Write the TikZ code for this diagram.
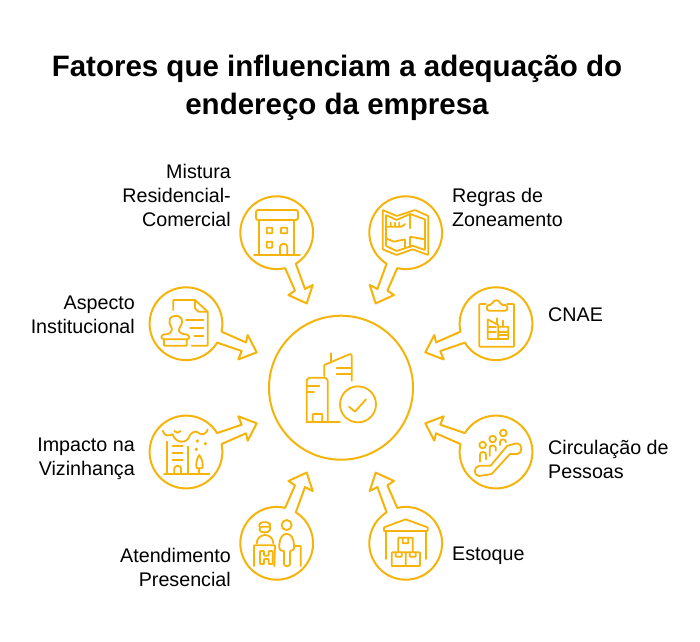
\documentclass[tikz,border=0pt]{standalone}
\usepackage{fontspec}
\setmainfont{Liberation Sans}
\definecolor{amb}{HTML}{F6B40A}
\tikzset{
  lab/.style={font=\fontsize{19.7}{24}\selectfont,text=black,inner sep=0pt,align=#1},
  ln/.style={draw=amb,line width=2pt,line join=round,line cap=round},
  ic/.style={draw=amb,line width=1.8pt,line join=round,line cap=round,rounded corners=0.6pt},
  zm/.style={shift={#1},scale=0.33333}
}
% diagonal pin (top-left form), side pin (upper-left form)
\newcommand{\diagpin}[3]{\begin{scope}[shift={(#1)},xscale=#2,yscale=#3]
 \draw[ln] (76.6:36.4pt) arc[start angle=76.6,end angle=418.3,radius=36.4pt] -- (28.3,56.3) -- (36,52.3) -- (30,70.7) -- (11.7,62.3) -- (18.3,58) -- cycle;
\end{scope}}
\newcommand{\sidepin}[3]{\begin{scope}[shift={(#1)},xscale=#2,yscale=#3]
 \draw[ln] (31.3:36.4pt) arc[start angle=31.3,end angle=372.6,radius=36.4pt] -- (60,18.7) -- (61.7,11.3) -- (70.7,28.7) -- (52.3,35.7) -- (55.7,27.3) -- cycle;
\end{scope}}
\begin{document}
\begin{tikzpicture}[x=1pt,y=1pt,yscale=-1]
\useasboundingbox (0,0) rectangle (700,641);
\fill[white] (0,0) rectangle (700,641);
\node[font=\bfseries\fontsize{29.5}{38}\selectfont,align=center,inner sep=0pt] (title) at (337,88) {Fatores que influenciam a adequação do\\endereço da empresa};

\coordinate (pa) at (276.7,232.7);
\coordinate (pb) at (405.7,232.7);
\coordinate (pc) at (186,323.7);
\coordinate (pd) at (496,323.7);
\coordinate (pe) at (186,452);
\coordinate (pf) at (496,452);
\coordinate (pg) at (276.7,543.3);
\coordinate (ph) at (405.7,543.3);
\diagpin{pa}{1}{1}
\diagpin{pb}{-1}{1}
\diagpin{pg}{1}{-1}
\diagpin{ph}{-1}{-1}
\sidepin{pc}{1}{1}
\sidepin{pd}{-1}{1}
\sidepin{pe}{1}{-1}
\sidepin{pf}{-1}{-1}
\node[draw=amb,line width=2pt,circle,minimum size=144pt,inner sep=0pt] (hub) at (341,387.7) {};

\node[lab=right,anchor=east] (l1) at (231,195) {Mistura\\Residencial-\\Comercial};
\node[lab=left,anchor=west] (l2) at (452,207) {Regras de\\Zoneamento};
\node[lab=right,anchor=east] (l3) at (135,315) {Aspecto\\Institucional};
\node[lab=left,anchor=west] (l4) at (548,315) {CNAE};
\node[lab=right,anchor=east] (l5) at (135,459) {Impacto na\\Vizinhança};
\node[lab=left,anchor=west] (l6) at (548,459) {Circulação de\\Pessoas};
\node[lab=right,anchor=east] (l7) at (231,567) {Atendimento\\Presencial};
\node[lab=left,anchor=west] (l8) at (452,556) {Estoque};

% hub icon
\begin{scope}[zm={(265,310)}]
 \draw[ic] (125,337) -- (125,210) -- (133,203) -- (180,203) -- (188,210) -- (188,337);
 \draw[ic] (125,337) -- (225,337);
 \draw[ic] (143,337) -- (143,312) -- (172,312) -- (172,337);
 \draw[ic] (125,228) -- (163,228) (125,247) -- (147,247);
 \draw[ic] (178,198) -- (178,165) -- (255,132) -- (260,135) -- (260,212);
 \draw[ic] (197,130) -- (197,157) (215,175) -- (260,175) (215,193) -- (260,193);
 \draw[ic] (279,283) circle[radius=54];
 \draw[ic] (252,290) -- (270,305) -- (303,268);
\end{scope}

% icons of the top row
\begin{scope}[zm={(230,190)}]
 \draw[ic,rounded corners=2pt] (78,60) rectangle (204,90);
 \draw[ic] (87,90) -- (87,195) (192,90) -- (192,195) (72,195) -- (210,195);
 \draw[ic] (110,113) rectangle (127,130) (153,113) rectangle (172,130) (110,155) rectangle (127,173);
 \draw[ic] (150,195) -- (150,172) arc[start angle=180,end angle=360,radius=11] -- (172,195);
 % map
 \draw[ic] (458,60) -- (500,78) -- (555,60) -- (595,78) -- (595,195) -- (548,178) -- (500,195) -- (458,178) -- cycle;
 \draw[ic] (468,75) -- (500,90) -- (540,72) -- (585,88) -- (585,180) -- (548,167) -- (500,183) -- (468,168) -- cycle;
 \draw[ic] (540,72) -- (540,115) (540,172) -- (540,140) -- (583,148);
 \draw[ic] (468,145) -- (492,155) -- (525,148) -- (525,172);
 \draw[ic] (470,110) -- (515,110) -- (525,102) (482,98) -- (482,110) (495,98) -- (495,110) (508,98) -- (508,110);
\end{scope}

% left column icons
\begin{scope}[zm={(140,280)}]
 \draw[ic] (100,90) -- (100,60) -- (165,60) -- (203,95) -- (203,197) -- (155,197);
 \draw[ic] (165,60) -- (165,85) -- (175,95) -- (203,95);
 \draw[ic] (138,120) -- (190,120) (150,143) -- (190,143) (163,167) -- (190,167);
 \draw[ic] (95,143) .. controls (80,120) and (92,107) .. (107,108) .. controls (122,107) and (134,120) .. (119,143) .. controls (114,152) and (118,160) .. (135,163) -- (140,163) .. controls (150,170) and (150,175) .. (140,178) -- (72,178) .. controls (62,175) and (62,167) .. (72,163) -- (80,163) .. controls (92,160) and (98,152) .. (95,143);
 \draw[ic] (72,178) -- (72,197) -- (140,197) -- (140,178);
 % city
 \draw[ic] (68,452) .. controls (72,470) and (88,468) .. (98,462) .. controls (105,488) and (140,495) .. (150,465) .. controls (158,455) and (168,452) .. (178,460) .. controls (190,466) and (200,460) .. (203,448);
 \draw[ic] (103,453) .. controls (108,460) and (117,460) .. (122,453);
 \fill[amb] (172,483) circle[radius=5.5] (196,491) circle[radius=5.5] (169,508) circle[radius=5.5];
 \draw[ic] (80,485) -- (80,582) (145,500) -- (145,582) (72,583) -- (208,583);
 \draw[ic] (98,497) -- (128,497) (98,519) -- (128,519) (98,541) -- (128,541);
 \draw[ic] (103,582) -- (103,567) arc[start angle=180,end angle=360,radius=10] -- (123,582);
 \draw[ic] (178,565) -- (178,582);
 \draw[ic] (178,525) .. controls (168,540) and (168,552) .. (170,565) -- (187,565) .. controls (189,552) and (188,540) .. (178,525);
\end{scope}

% right column icons
\begin{scope}[zm={(420,280)}]
 \draw[ic] (198,72) -- (178,72) -- (178,200) -- (282,200) -- (282,72) -- (262,72);
 \draw[ic,rounded corners=2pt] (201,92) -- (201,75) -- (216,75) .. controls (220,58) and (238,58) .. (242,75) -- (262,75) -- (262,92) -- cycle;
 \draw[ic] (203,177) -- (203,118) -- (235,135) -- (235,177) -- cycle;
 \draw[ic] (235,177) -- (265,177) -- (265,140) -- (235,140);
 \draw[ic] (205,140) -- (228,140) (205,155) -- (228,155) (235,155) -- (262,155) (235,165) -- (262,165);
 \draw[ic] (232,115) -- (232,132) (250,122) -- (250,140);
 % escalator
 \draw[ic] (178,557) -- (212,557) -- (262,497) -- (290,490) .. controls (308,490) and (308,522) .. (290,522) -- (270,522) -- (215,582) -- (178,588) .. controls (160,586) and (160,560) .. (178,557);
 \draw[ic] (188,495) circle[radius=10] (218,477) circle[radius=10] (250,459) circle[radius=10];
 \draw[ic] (180,545) -- (180,525) arc[start angle=180,end angle=360,radius=9] -- (198,538);
 \draw[ic] (209,528) -- (209,505) arc[start angle=180,end angle=360,radius=9] -- (227,512);
 \draw[ic] (240,495) -- (240,487) arc[start angle=180,end angle=360,radius=9];
\end{scope}

% bottom row icons
\begin{scope}[zm={(230,465)}]
 \draw[ic,rounded corners=3pt] (88,185) -- (88,172) -- (120,172) -- (120,185) .. controls (120,205) and (88,205) .. (88,185) -- (120,185);
 \draw[ic] (80,235) arc[start angle=180,end angle=360,radius=25];
 \draw[ic] (72,303) -- (72,241) -- (135,241) -- (133,303);
 \draw[ic] (90,258) -- (90,297) -- (102,297) -- (102,282) -- (116,282) -- (116,297) -- (128,297) -- (128,258) -- (116,258) -- (116,272) -- (102,272) -- (102,258) -- cycle;
 \draw[ic] (170,180) circle[radius=15];
 \draw[ic] (162,258) -- (162,295) arc[start angle=180,end angle=0,radius=9] -- (180,258) .. controls (190,258) and (193,252) .. (192,240) .. controls (190,215) and (180,207) .. (170,207) .. controls (160,207) and (150,215) .. (148,240) .. controls (147,252) and (150,258) .. (162,258);
 \draw[ic] (195,243) -- (212,243) -- (212,303);
 % warehouse
 \draw[ic] (462,198) -- (462,187) -- (527,163) -- (593,187) -- (593,198) -- cycle;
 \draw[ic] (467,198) -- (467,282) (588,198) -- (588,282);
 \draw[ic] (485,262) rectangle (527,303) (527,262) rectangle (570,303) (505,218) rectangle (548,262);
 \draw[ic] (497,262) -- (497,275) -- (515,275) -- (515,262) (539,262) -- (539,275) -- (557,275) -- (557,262) (518,218) -- (518,235) -- (535,235) -- (535,218);
\end{scope}
\end{tikzpicture}
\end{document}
